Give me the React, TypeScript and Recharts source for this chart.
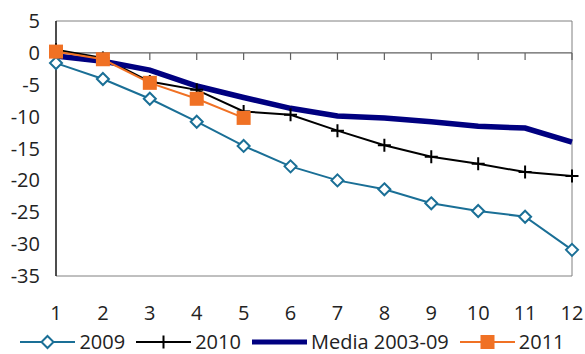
import { LineChart, Line, XAxis, YAxis, ReferenceLine, ReferenceArea } from 'recharts';

const months = [1, 2, 3, 4, 5, 6, 7, 8, 9, 10, 11, 12];
const s2009 = [-1.6, -4.1, -7.2, -10.8, -14.6, -17.8, -20.0, -21.4, -23.6, -24.8, -25.7, -30.9];
const s2010 = [0.5, -0.8, -4.5, -5.8, -9.2, -9.7, -12.2, -14.5, -16.3, -17.4, -18.7, -19.3];
const media = [-0.5, -1.3, -2.7, -5.2, -7.0, -8.7, -9.9, -10.2, -10.8, -11.5, -11.8, -14.0];
const s2011 = [0.2, -1.0, -4.7, -7.2, -10.2];
const yTicks = [5, 0, -5, -10, -15, -20, -25, -30, -35];

const BLUE = '#1a6f96';
const NAVY = '#000080';
const ORANGE = '#f07124';
const FONT = '"Open Sans", "Noto Sans", sans-serif';

const data = months.map((m, i) => ({
  m,
  s2009: s2009[i],
  s2010: s2010[i],
  media: media[i],
  s2011: i < s2011.length ? s2011[i] : null,
}));

const Diamond = ({ cx, cy }: any) => (
  <path d={`M${cx},${cy - 6}L${cx + 6},${cy}L${cx},${cy + 6}L${cx - 6},${cy}Z`} fill="#fff" stroke={BLUE} strokeWidth={2} />
);

const Plus = ({ cx, cy }: any) => (
  <path d={`M${cx - 6.5},${cy}H${cx + 6.5}M${cx},${cy - 6.5}V${cy + 6.5}`} stroke="#000" strokeWidth={2} fill="none" />
);

const Square = ({ cx, cy }: any) => (
  <rect x={cx - 7} y={cy - 7} width={14} height={14} fill={ORANGE} />
);

// month labels sit well below the plot, the axis line itself is drawn at zero
const MonthTick = ({ x, y, payload }: any) => (
  <text x={x} y={y} dy={38} textAnchor="middle" fill="#222" fontSize={20} fontFamily={FONT}>
    {payload.value}
  </text>
);

const legendItems = [
  { label: '2009', color: BLUE, width: 2, marker: 'diamond' },
  { label: '2010', color: '#000', width: 2, marker: 'plus' },
  { label: 'Media 2003-09', color: NAVY, width: 5, marker: null },
  { label: '2011', color: ORANGE, width: 2, marker: 'square' },
];

function Swatch({ item }: any) {
  return (
    <svg width={55} height={20} style={{ display: 'block' }}>
      <line x1={0} y1={10} x2={55} y2={10} stroke={item.color} strokeWidth={item.width} />
      {item.marker === 'diamond' && <Diamond cx={27.5} cy={10} />}
      {item.marker === 'plus' && <Plus cx={27.5} cy={10} />}
      {item.marker === 'square' && <Square cx={27.5} cy={10} />}
    </svg>
  );
}

export default function App() {
  return (
    <div style={{ position: 'relative', width: 585, height: 354, background: '#fff', fontFamily: FONT, overflow: 'hidden' }}>
      <style>{'body{margin:0}'}</style>
      <LineChart width={585} height={354} data={data} margin={{ top: 21, right: 13, left: 0, bottom: 0 }}>
        <XAxis
          dataKey="m"
          type="number"
          domain={[1, 12]}
          ticks={months}
          axisLine={false}
          tickLine={false}
          height={78}
          tickMargin={0}
          tick={<MonthTick />}
        />
        <YAxis
          type="number"
          domain={[-35, 5]}
          ticks={yTicks}
          width={56}
          axisLine={{ stroke: '#000', strokeWidth: 1.2 }}
          tickLine={false}
          tickMargin={10}
          tick={{ fill: '#222', fontSize: 20, fontFamily: FONT }}
        />
        <ReferenceArea x1={1} x2={12} y1={-35} y2={5} fill="none" stroke="#808080" strokeWidth={1} />
        <ReferenceLine y={0} stroke="#606060" strokeWidth={1.2} />
        {months.map((m) => (
          <ReferenceLine
            key={m}
            segment={[{ x: m, y: 0 }, { x: m, y: -1.1 }]}
            stroke="#606060"
            strokeWidth={1.2}
          />
        ))}
        <Line dataKey="s2009" stroke={BLUE} strokeWidth={2} isAnimationActive={false}
          dot={(p: any) => <Diamond key={p.index} cx={p.cx} cy={p.cy} />} />
        <Line dataKey="s2010" stroke="#000" strokeWidth={2} isAnimationActive={false}
          dot={(p: any) => <Plus key={p.index} cx={p.cx} cy={p.cy} />} />
        <Line dataKey="media" stroke={NAVY} strokeWidth={5.5} dot={false} isAnimationActive={false} />
        <Line dataKey="s2011" stroke={ORANGE} strokeWidth={2} isAnimationActive={false}
          dot={(p: any) => (p.cy == null ? <g key={p.index} /> : <Square key={p.index} cx={p.cx} cy={p.cy} />)} />
      </LineChart>
      <div
        style={{
          position: 'absolute',
          left: 0,
          top: 331,
          width: 585,
          height: 21,
          display: 'flex',
          justifyContent: 'center',
          alignItems: 'center',
          fontSize: 20,
          color: '#222',
          lineHeight: '21px',
        }}
      >
        {legendItems.map((item, i) => (
          <div key={item.label} style={{ display: 'flex', alignItems: 'center', marginLeft: i ? 11 : 0 }}>
            <Swatch item={item} />
            <span style={{ marginLeft: 4 }}>{item.label}</span>
          </div>
        ))}
      </div>
    </div>
  );
}
